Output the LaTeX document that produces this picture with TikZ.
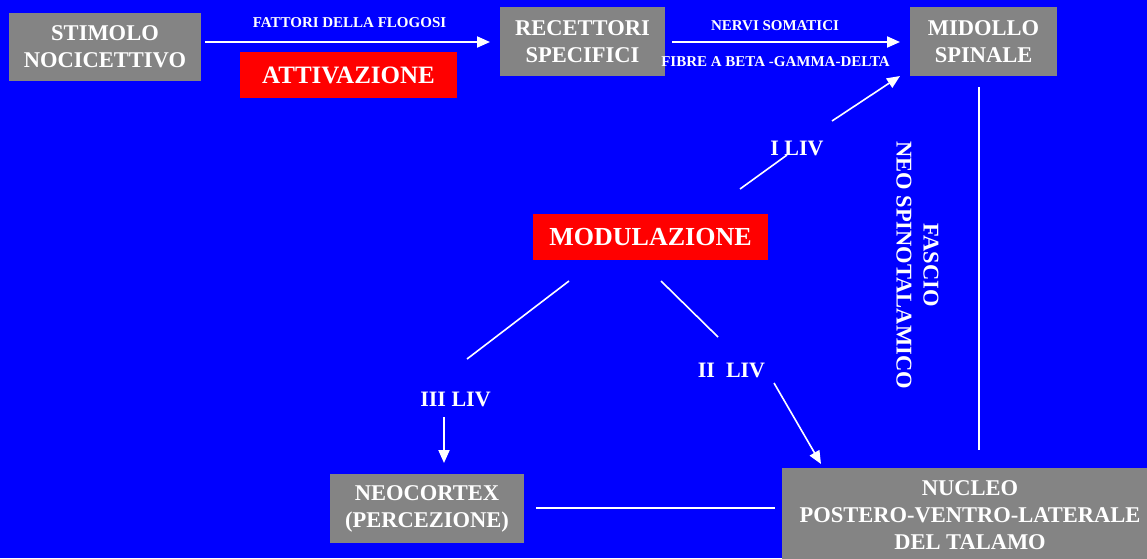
\documentclass[tikz,border=0pt]{standalone}
\usepackage{fontspec}
\setmainfont{Liberation Serif}
\usetikzlibrary{arrows.meta}
\definecolor{bgblue}{RGB}{0,0,255}
\definecolor{boxgray}{RGB}{132,132,132}
\definecolor{hotred}{RGB}{255,0,0}
\begin{document}
\begin{tikzpicture}[x=1pt,y=-1pt,
  graybox/.style={fill=boxgray, text=white, align=center, inner sep=0pt,
    font=\fontsize{22.5}{27}\selectfont\bfseries},
  redbox/.style={fill=hotred, text=white, align=center, inner sep=0pt},
  smalltxt/.style={text=white, inner sep=0pt, font=\fontsize{15}{18}\selectfont\bfseries},
  levtxt/.style={text=white, inner sep=0pt, font=\fontsize{22}{26}\selectfont\bfseries},
  wline/.style={draw=white, line width=1.6pt},
  warrow/.style={draw=white, line width=2pt, -{Triangle[length=13pt,width=11pt]}}]
% background
\useasboundingbox (0,0) rectangle (1147,558);
\fill[bgblue] (0,0) rectangle (1147,558);

% boxes
\node[graybox, minimum width=192pt, minimum height=68pt] (stim) at (105,47) {STIMOLO\\NOCICETTIVO};
\node[graybox, minimum width=165pt, minimum height=69pt] (recet) at (582.5,41.5) {RECETTORI\\SPECIFICI};
\node[graybox, minimum width=147pt, minimum height=69pt] (midollo) at (983.5,41.5) {MIDOLLO\\SPINALE};
\node[graybox, minimum width=194pt, minimum height=69pt] (neo) at (427,508.5) {NEOCORTEX\\(PERCEZIONE)};
\node[graybox, minimum width=376pt, minimum height=94pt] (nucleo) at (970,515) {NUCLEO\\POSTERO-VENTRO-LATERALE\\DEL TALAMO};

\node[redbox, minimum width=217pt, minimum height=46pt, font=\fontsize{25}{30}\selectfont\bfseries] (attiv) at (348.5,75) {ATTIVAZIONE};
\node[redbox, minimum width=235pt, minimum height=46pt, font=\fontsize{26}{31}\selectfont\bfseries] (modul) at (650.5,237) {MODULAZIONE};

% small labels on the top arrows
\node[smalltxt, anchor=base] (fatt) at (349.5,27) {FATTORI DELLA FLOGOSI};
\node[smalltxt, anchor=base] (nervi) at (775,30) {NERVI SOMATICI};
\node[smalltxt, anchor=base] (fibre) at (775.5,66) {FIBRE A BETA -GAMMA-DELTA};

% level labels
\node[levtxt, anchor=base] (iliv) at (797,155) {I LIV};
\node[levtxt, anchor=base] (iiliv) at (731.5,377) {II\ \ LIV};
\node[levtxt, anchor=base] (iiiliv) at (455.5,406) {III LIV};

% tract label
\node[text=white, align=center, inner sep=0pt, rotate=-90,
  font=\fontsize{22.5}{27}\selectfont\bfseries] (fascio) at (917.5,265) {FASCIO\\NEO SPINOTALAMICO};

% connector end points
\coordinate (a1s) at (205,42);  \coordinate (a1e) at (490,42);
\coordinate (a2s) at (672,42);  \coordinate (a2e) at (900,42);
\coordinate (ia) at (740,189);  \coordinate (ib) at (787,155);
\coordinate (ic) at (832,121);  \coordinate (id) at (900,76);
\coordinate (la) at (569,281);  \coordinate (lb) at (467,359);
\coordinate (ra) at (661,281);  \coordinate (rb) at (718,337);
\coordinate (t3s) at (444,417); \coordinate (t3e) at (444,463);
\coordinate (t2s) at (774,383); \coordinate (t2e) at (821,464);
\coordinate (hs) at (536,508);  \coordinate (he) at (775,508);
\coordinate (vs) at (979,87);   \coordinate (ve) at (979,450);

% connectors
\draw[warrow] (a1s) -- (a1e);
\draw[warrow] (a2s) -- (a2e);
\draw[wline] (ia) -- (ib);
\draw[warrow, line width=1.6pt] (ic) -- (id);
\draw[wline] (la) -- (lb);
\draw[wline] (ra) -- (rb);
\draw[warrow] (t3s) -- (t3e);
\draw[warrow, line width=1.6pt] (t2s) -- (t2e);
\draw[wline, line width=2pt] (hs) -- (he);
\draw[wline, line width=2pt] (vs) -- (ve);
\end{tikzpicture}
\end{document}
